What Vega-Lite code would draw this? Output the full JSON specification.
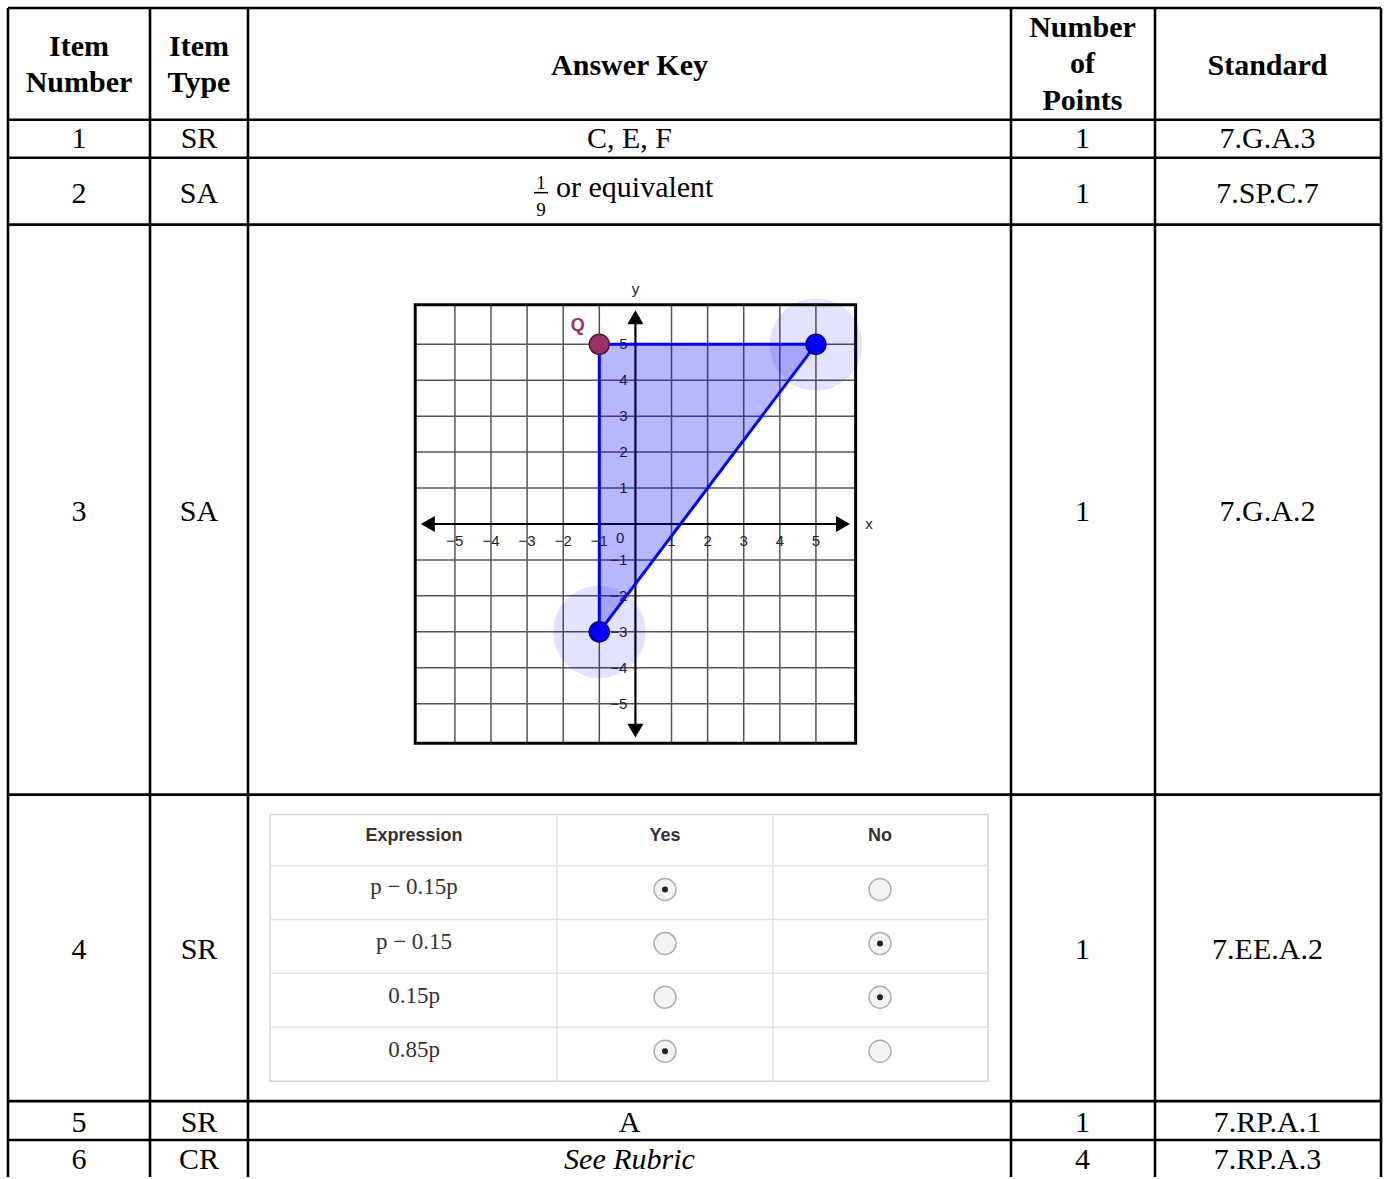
{
  "$schema": "https://vega.github.io/schema/vega-lite/v6.json",
  "width": 1386,
  "height": 1179,
  "padding": 0,
  "autosize": {"type": "fit", "contains": "padding"},
  "background": "white",
  "config": {"view": {"stroke": null}},
  "resolve": {"scale": {"x": "independent", "y": "independent"}},
  "layer": [
    {
      "encoding": {
        "x": {"field": "x", "type": "quantitative", "scale": {"domain": [0, 1386], "nice": false, "zero": false}, "axis": null},
        "y": {"field": "y", "type": "quantitative", "scale": {"domain": [0, 1179], "nice": false, "zero": false, "reverse": true}, "axis": null}
      },
      "layer": [
        {
          "data": {"values": [
            {"x": 270, "y": 816, "x2": 988, "y2": 1083}
          ]},
          "mark": {"type": "rect", "fill": "white", "stroke": "#d4d4d4", "strokeWidth": 1.5},
          "encoding": {"x2": {"field": "x2"}, "y2": {"field": "y2"}}
        },
        {
          "data": {"values": [
            {"x": 557, "y": 816, "x2": 557, "y2": 1083},
            {"x": 773, "y": 816, "x2": 773, "y2": 1083},
            {"x": 270, "y": 867, "x2": 988, "y2": 867},
            {"x": 270, "y": 921, "x2": 988, "y2": 921},
            {"x": 270, "y": 975, "x2": 988, "y2": 975},
            {"x": 270, "y": 1029, "x2": 988, "y2": 1029}
          ]},
          "mark": {"type": "rule", "color": "#e2e2e2", "strokeWidth": 1.5},
          "encoding": {"x2": {"field": "x2"}, "y2": {"field": "y2"}}
        },
        {
          "data": {"values": [
            {"x": 8, "y": 8, "x2": 8, "y2": 1179},
            {"x": 150, "y": 8, "x2": 150, "y2": 1179},
            {"x": 248, "y": 8, "x2": 248, "y2": 1179},
            {"x": 1011, "y": 8, "x2": 1011, "y2": 1179},
            {"x": 1155, "y": 8, "x2": 1155, "y2": 1179},
            {"x": 1381, "y": 8, "x2": 1381, "y2": 1179},
            {"x": 8, "y": 8, "x2": 1381, "y2": 8},
            {"x": 8, "y": 120, "x2": 1381, "y2": 120},
            {"x": 8, "y": 158, "x2": 1381, "y2": 158},
            {"x": 8, "y": 225, "x2": 1381, "y2": 225},
            {"x": 8, "y": 796, "x2": 1381, "y2": 796},
            {"x": 8, "y": 1103, "x2": 1381, "y2": 1103},
            {"x": 8, "y": 1142, "x2": 1381, "y2": 1142}
          ]},
          "mark": {"type": "rule", "color": "#000000", "strokeWidth": 2.6},
          "encoding": {"x2": {"field": "x2"}, "y2": {"field": "y2"}}
        },
        {
          "data": {"values": [
            {"t": "Item", "x": 79, "y": 47},
            {"t": "Number", "x": 79, "y": 83},
            {"t": "Item", "x": 199, "y": 47},
            {"t": "Type", "x": 199, "y": 83},
            {"t": "Answer Key", "x": 629.5, "y": 66},
            {"t": "Number", "x": 1082.5, "y": 28},
            {"t": "of", "x": 1082.5, "y": 64},
            {"t": "Points", "x": 1082.5, "y": 101},
            {"t": "Standard", "x": 1267.5, "y": 66}
          ]},
          "mark": {"type": "text", "font": "Liberation Serif", "fontWeight": "bold", "fontSize": 30, "align": "center", "baseline": "middle", "color": "#000000"},
          "encoding": {"text": {"field": "t"}}
        },
        {
          "data": {"values": [
            {"t": "1", "x": 79, "y": 139}, {"t": "SR", "x": 199, "y": 139}, {"t": "C, E, F", "x": 629.5, "y": 139}, {"t": "1", "x": 1082.5, "y": 139}, {"t": "7.G.A.3", "x": 1267.5, "y": 139},
            {"t": "2", "x": 79, "y": 194}, {"t": "SA", "x": 199, "y": 194}, {"t": "1", "x": 1082.5, "y": 194}, {"t": "7.SP.C.7", "x": 1267.5, "y": 194},
            {"t": "3", "x": 79, "y": 513}, {"t": "SA", "x": 199, "y": 513}, {"t": "1", "x": 1082.5, "y": 513}, {"t": "7.G.A.2", "x": 1267.5, "y": 513},
            {"t": "4", "x": 79, "y": 952}, {"t": "SR", "x": 199, "y": 952}, {"t": "1", "x": 1082.5, "y": 952}, {"t": "7.EE.A.2", "x": 1267.5, "y": 952},
            {"t": "5", "x": 79, "y": 1125}, {"t": "SR", "x": 199, "y": 1125}, {"t": "A", "x": 629.5, "y": 1125}, {"t": "1", "x": 1082.5, "y": 1125}, {"t": "7.RP.A.1", "x": 1267.5, "y": 1125},
            {"t": "6", "x": 79, "y": 1162}, {"t": "CR", "x": 199, "y": 1162}, {"t": "4", "x": 1082.5, "y": 1162}, {"t": "7.RP.A.3", "x": 1267.5, "y": 1162}
          ]},
          "mark": {"type": "text", "font": "Liberation Serif", "fontSize": 30, "align": "center", "baseline": "middle", "color": "#000000"},
          "encoding": {"text": {"field": "t"}}
        },
        {
          "data": {"values": [
            {"t": "See Rubric", "x": 629.5, "y": 1162}
          ]},
          "mark": {"type": "text", "font": "Liberation Serif", "fontStyle": "italic", "fontSize": 30, "align": "center", "baseline": "middle", "color": "#000000"},
          "encoding": {"text": {"field": "t"}}
        },
        {
          "data": {"values": [
            {"t": "or equivalent", "x": 556, "y": 197}
          ]},
          "mark": {"type": "text", "font": "Liberation Serif", "fontSize": 30, "align": "left", "baseline": "alphabetic", "color": "#000000"},
          "encoding": {"text": {"field": "t"}}
        },
        {
          "data": {"values": [
            {"t": "1", "x": 541, "y": 183},
            {"t": "9", "x": 541, "y": 210}
          ]},
          "mark": {"type": "text", "font": "Liberation Serif", "fontSize": 19, "align": "center", "baseline": "middle", "color": "#000000"},
          "encoding": {"text": {"field": "t"}}
        },
        {
          "data": {"values": [
            {"x": 534, "y": 193, "x2": 548, "y2": 193}
          ]},
          "mark": {"type": "rule", "color": "#000000", "strokeWidth": 1.5},
          "encoding": {"x2": {"field": "x2"}, "y2": {"field": "y2"}}
        },
        {
          "data": {"values": [
            {"t": "Expression", "x": 414, "y": 837},
            {"t": "Yes", "x": 665, "y": 837},
            {"t": "No", "x": 880, "y": 837}
          ]},
          "mark": {"type": "text", "font": "Liberation Sans", "fontWeight": "bold", "fontSize": 18, "align": "center", "baseline": "middle", "color": "#333333"},
          "encoding": {"text": {"field": "t"}}
        },
        {
          "data": {"values": [
            {"t": "p − 0.15p", "x": 414, "y": 889},
            {"t": "p − 0.15", "x": 414, "y": 944},
            {"t": "0.15p", "x": 414, "y": 998},
            {"t": "0.85p", "x": 414, "y": 1052}
          ]},
          "mark": {"type": "text", "font": "Liberation Serif", "fontSize": 23, "align": "center", "baseline": "middle", "color": "#333333"},
          "encoding": {"text": {"field": "t"}}
        },
        {
          "data": {"values": [
            {"x": 665, "y": 891, "selected": true}, {"x": 880, "y": 891, "selected": false},
            {"x": 665, "y": 945, "selected": false}, {"x": 880, "y": 945, "selected": true},
            {"x": 665, "y": 999, "selected": false}, {"x": 880, "y": 999, "selected": true},
            {"x": 665, "y": 1053, "selected": true}, {"x": 880, "y": 1053, "selected": false}
          ]},
          "layer": [
            {
              "mark": {"type": "point", "shape": "circle", "filled": true, "size": 484, "fill": "#f3f3f3", "stroke": "#b0b0b0", "strokeWidth": 1.5, "opacity": 1}
            },
            {
              "transform": [{"filter": "datum.selected"}],
              "mark": {"type": "point", "shape": "circle", "filled": true, "size": 36, "color": "#222222", "opacity": 1}
            }
          ]
        }
      ]
    },
    {
      "encoding": {
        "x": {"field": "x", "type": "quantitative", "scale": {"domain": [-17.6, 20.79], "nice": false, "zero": false}, "axis": null},
        "y": {"field": "y", "type": "quantitative", "scale": {"domain": [-18.17, 14.58], "nice": false, "zero": false}, "axis": null}
      },
      "layer": [
        {
          "data": {"values": [
            {"x": -5, "y": -6.1, "x2": -5, "y2": 6.1}, {"x": -4, "y": -6.1, "x2": -4, "y2": 6.1},
            {"x": -3, "y": -6.1, "x2": -3, "y2": 6.1}, {"x": -2, "y": -6.1, "x2": -2, "y2": 6.1},
            {"x": -1, "y": -6.1, "x2": -1, "y2": 6.1}, {"x": 1, "y": -6.1, "x2": 1, "y2": 6.1},
            {"x": 2, "y": -6.1, "x2": 2, "y2": 6.1}, {"x": 3, "y": -6.1, "x2": 3, "y2": 6.1},
            {"x": 4, "y": -6.1, "x2": 4, "y2": 6.1}, {"x": 5, "y": -6.1, "x2": 5, "y2": 6.1},
            {"x": -6.1, "y": -5, "x2": 6.1, "y2": -5}, {"x": -6.1, "y": -4, "x2": 6.1, "y2": -4},
            {"x": -6.1, "y": -3, "x2": 6.1, "y2": -3}, {"x": -6.1, "y": -2, "x2": 6.1, "y2": -2},
            {"x": -6.1, "y": -1, "x2": 6.1, "y2": -1}, {"x": -6.1, "y": 1, "x2": 6.1, "y2": 1},
            {"x": -6.1, "y": 2, "x2": 6.1, "y2": 2}, {"x": -6.1, "y": 3, "x2": 6.1, "y2": 3},
            {"x": -6.1, "y": 4, "x2": 6.1, "y2": 4}, {"x": -6.1, "y": 5, "x2": 6.1, "y2": 5}
          ]},
          "mark": {"type": "rule", "color": "#555555", "strokeWidth": 1.5},
          "encoding": {"x2": {"field": "x2"}, "y2": {"field": "y2"}}
        },
        {
          "data": {"values": [
            {"x": -5.65, "y": 0, "x2": 5.65, "y2": 0},
            {"x": 0, "y": -5.65, "x2": 0, "y2": 5.65}
          ]},
          "mark": {"type": "rule", "color": "#000000", "strokeWidth": 2.2},
          "encoding": {"x2": {"field": "x2"}, "y2": {"field": "y2"}}
        },
        {
          "data": {"values": [
            {"x": -5.75, "y": 0, "dir": "triangle-left"},
            {"x": 5.75, "y": 0, "dir": "triangle-right"},
            {"x": 0, "y": 5.75, "dir": "triangle-up"},
            {"x": 0, "y": -5.75, "dir": "triangle-down"}
          ]},
          "mark": {"type": "point", "filled": true, "size": 260, "color": "#000000", "opacity": 1},
          "encoding": {"shape": {"field": "dir", "type": "nominal", "scale": null}}
        },
        {
          "data": {"values": [
            {"t": "−5", "x": -5, "y": -0.47}, {"t": "−4", "x": -4, "y": -0.47},
            {"t": "−3", "x": -3, "y": -0.47}, {"t": "−2", "x": -2, "y": -0.47},
            {"t": "−1", "x": -1, "y": -0.47}, {"t": "0", "x": -0.42, "y": -0.4},
            {"t": "1", "x": 1, "y": -0.47}, {"t": "2", "x": 2, "y": -0.47},
            {"t": "3", "x": 3, "y": -0.47}, {"t": "4", "x": 4, "y": -0.47},
            {"t": "5", "x": 5, "y": -0.47}
          ]},
          "mark": {"type": "text", "font": "Liberation Sans", "fontSize": 15, "align": "center", "baseline": "middle", "color": "#222222"},
          "encoding": {"text": {"field": "t"}}
        },
        {
          "data": {"values": [
            {"t": "5", "y": 5, "x": -0.22}, {"t": "4", "y": 4, "x": -0.22},
            {"t": "3", "y": 3, "x": -0.22}, {"t": "2", "y": 2, "x": -0.22},
            {"t": "1", "y": 1, "x": -0.22}, {"t": "−1", "y": -1, "x": -0.22},
            {"t": "−2", "y": -2, "x": -0.22}, {"t": "−3", "y": -3, "x": -0.22},
            {"t": "−4", "y": -4, "x": -0.22}, {"t": "−5", "y": -5, "x": -0.22}
          ]},
          "mark": {"type": "text", "font": "Liberation Sans", "fontSize": 15, "align": "right", "baseline": "middle", "color": "#222222"},
          "encoding": {"text": {"field": "t"}}
        },
        {
          "data": {"values": [
            {"t": "x", "x": 6.47, "y": 0},
            {"t": "y", "x": 0, "y": 6.55}
          ]},
          "mark": {"type": "text", "font": "Liberation Sans", "fontSize": 15, "align": "center", "baseline": "middle", "color": "#222222"},
          "encoding": {"text": {"field": "t"}}
        },
        {
          "data": {"values": [
            {"x": 5, "y": 5},
            {"x": -1, "y": -3}
          ]},
          "mark": {"type": "point", "shape": "circle", "filled": true, "size": 8500, "color": "#0000ff", "opacity": 0.11}
        },
        {
          "data": {"values": [
            {"x": -1, "y": -3, "y2": 5},
            {"x": 5, "y": 5, "y2": 5}
          ]},
          "mark": {"type": "area", "color": "#0000ff", "opacity": 0.28},
          "encoding": {"y2": {"field": "y2"}}
        },
        {
          "data": {"values": [
            {"x": -1, "y": 5, "x2": 5, "y2": 5},
            {"x": 5, "y": 5, "x2": -1, "y2": -3},
            {"x": -1, "y": -3, "x2": -1, "y2": 5}
          ]},
          "mark": {"type": "rule", "color": "#0000ff", "strokeWidth": 3},
          "encoding": {"x2": {"field": "x2"}, "y2": {"field": "y2"}}
        },
        {
          "data": {"values": [
            {"x": -6.1, "y": -6.1, "x2": 6.1, "y2": 6.1}
          ]},
          "mark": {"type": "rect", "fill": null, "fillOpacity": 0, "stroke": "#000000", "strokeWidth": 3},
          "encoding": {"x2": {"field": "x2"}, "y2": {"field": "y2"}}
        },
        {
          "data": {"values": [
            {"t": "Q", "x": -1.6, "y": 5.52}
          ]},
          "mark": {"type": "text", "font": "Liberation Sans", "fontWeight": "bold", "fontSize": 18, "align": "center", "baseline": "middle", "color": "#993366"},
          "encoding": {"text": {"field": "t"}}
        },
        {
          "data": {"values": [
            {"x": 5, "y": 5, "p": "B"},
            {"x": -1, "y": -3, "p": "C"},
            {"x": -1, "y": 5, "p": "Q"}
          ]},
          "mark": {"type": "point", "shape": "circle", "filled": true, "size": 400, "strokeWidth": 1.5, "opacity": 1},
          "encoding": {
            "fill": {"field": "p", "type": "nominal", "scale": {"domain": ["B", "C", "Q"], "range": ["#0000ff", "#0000ff", "#993366"]}, "legend": null},
            "stroke": {"field": "p", "type": "nominal", "scale": {"domain": ["B", "C", "Q"], "range": ["#00007a", "#00007a", "#4d1a33"]}, "legend": null}
          }
        }
      ]
    }
  ]
}
